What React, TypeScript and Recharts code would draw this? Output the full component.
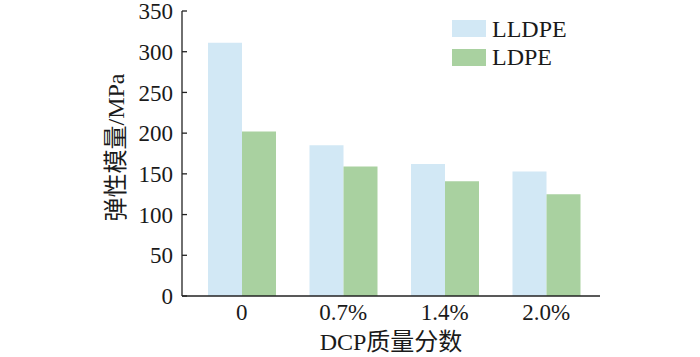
import { Bar, BarChart, Label, Legend, XAxis, YAxis } from 'recharts';

const categories = ['0', '0.7%', '1.4%', '2.0%'];
const seriesNames = ['LLDPE', 'LDPE'];
const lldpe = [311, 185, 162, 153];
const ldpe = [202, 159, 141, 125];
const yTicks = [0, 50, 100, 150, 200, 250, 300, 350];

const data = categories.map((name, i) => ({ name, lldpe: lldpe[i], ldpe: ldpe[i] }));

const serif = "'Liberation Serif', 'Times New Roman', 'Noto Sans CJK SC', serif";
const ink = '#1a1a1a';
const axisStroke = '#222';
const tickStyle = { fill: ink, fontSize: 23, fontFamily: serif } as const;

function YTitle({ viewBox }: any) {
  const cx = viewBox.x + 116;
  const cy = viewBox.y + viewBox.height / 2 - 6;
  return (
    <text
      x={cx}
      y={cy}
      transform={`rotate(-90, ${cx}, ${cy})`}
      textAnchor="middle"
      dominantBaseline="central"
      fontSize={24}
      fontFamily={serif}
      fill={ink}
    >
      弹性模量/MPa
    </text>
  );
}

function LegendBox({ payload }: any) {
  const items = [...(payload ?? [])].sort(
    (a: any, b: any) => seriesNames.indexOf(a.value) - seriesNames.indexOf(b.value),
  );
  return (
    <div style={{ fontFamily: serif, fontSize: 24, color: ink }}>
      {items.map((p: any) => (
        <div key={p.value} style={{ display: 'flex', alignItems: 'center', height: 28.5 }}>
          <span style={{ width: 34, height: 17, background: p.color, display: 'inline-block' }} />
          <span style={{ marginLeft: 6, lineHeight: '24px' }}>{p.value}</span>
        </div>
      ))}
    </div>
  );
}

export default function App() {
  return (
    <div style={{ position: 'absolute', left: 0, top: 0, background: '#fff' }}>
      <BarChart
        width={700}
        height={357}
        data={data}
        barGap={0}
        barSize={34}
        margin={{ top: 11, right: 100, bottom: 0, left: 0 }}
      >
        <XAxis
          dataKey="name"
          height={61}
          padding={{ left: 9, right: 3 }}
          tick={tickStyle}
          tickLine={false}
          axisLine={{ stroke: axisStroke, strokeWidth: 1.3 }}
        >
          <Label
            value="DCP质量分数"
            position="insideBottom"
            offset={7}
            style={{ fontSize: 24, fontFamily: serif, fill: ink }}
          />
        </XAxis>
        <YAxis
          width={182}
          domain={[0, 350]}
          ticks={yTicks}
          interval={0}
          tick={tickStyle}
          tickSize={-5}
          tickMargin={14}
          tickLine={{ stroke: axisStroke, strokeWidth: 1.3 }}
          axisLine={{ stroke: axisStroke, strokeWidth: 1.3 }}
        >
          <Label content={<YTitle />} />
        </YAxis>
        <Legend
          layout="vertical"
          align="center"
          verticalAlign="middle"
          content={<LegendBox />}
          wrapperStyle={{ left: 452, top: 14.5, width: 140 }}
        />
        <Bar name="LLDPE" dataKey="lldpe" fill="#d2e8f5" isAnimationActive={false} />
        <Bar name="LDPE" dataKey="ldpe" fill="#a9d1a0" isAnimationActive={false} />
      </BarChart>
    </div>
  );
}
